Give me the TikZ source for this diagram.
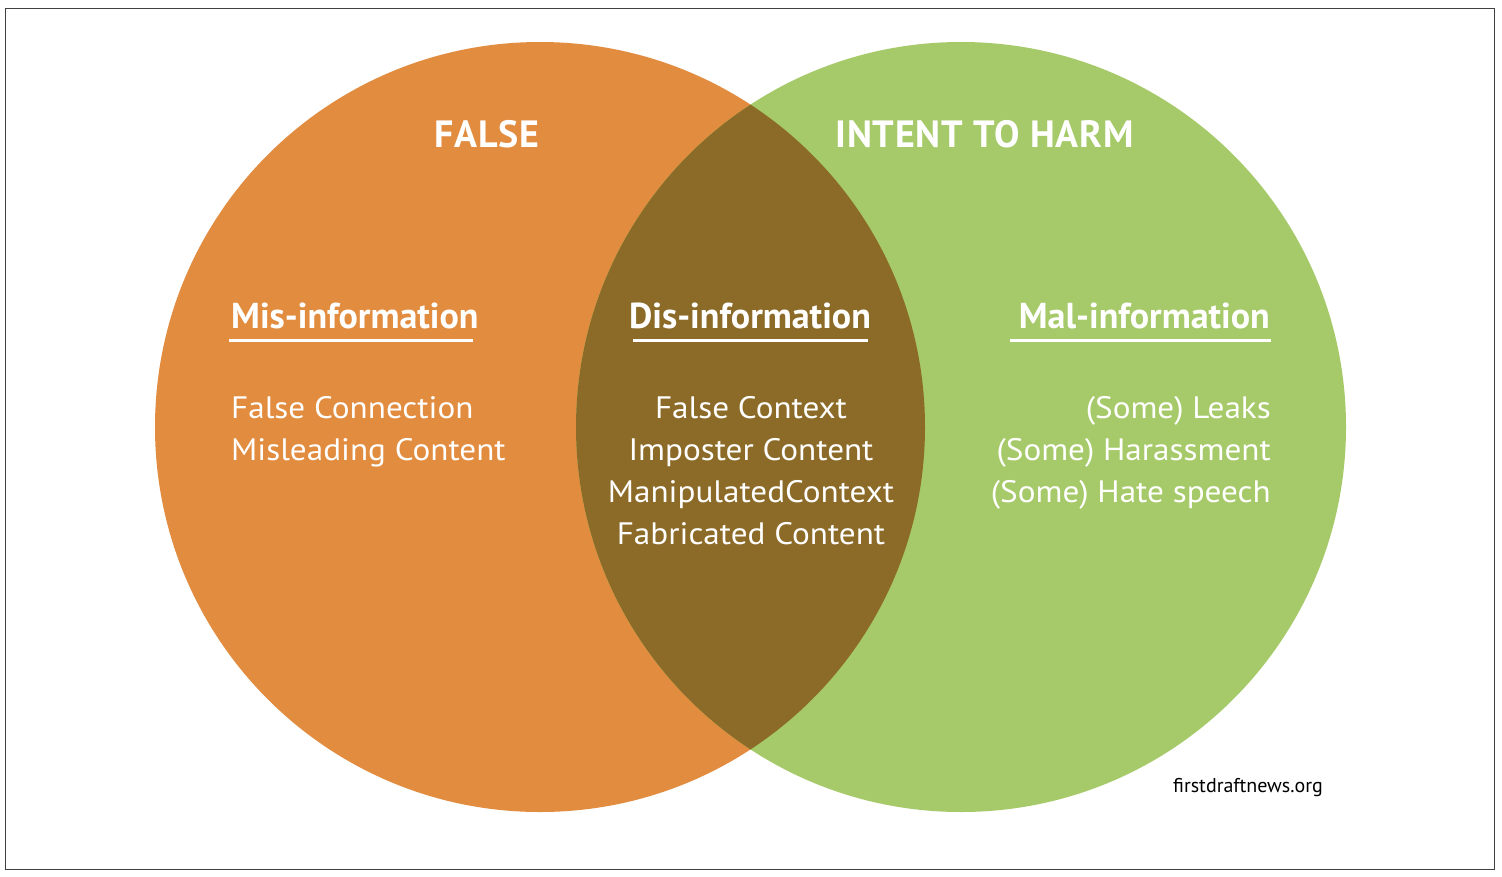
\documentclass[tikz,border=0pt]{standalone}
\usepackage{fontspec}
\setmainfont{PT Sans}
\newfontfamily\titlefont[LetterSpace=2]{PT Sans Bold}
\newfontfamily\headfont{PT Sans Bold}
\newfontfamily\listfont[FakeStretch=1.07]{PT Sans}
\definecolor{falsecol}{HTML}{E28C3F}
\definecolor{harmcol}{HTML}{A6CA69}
\definecolor{bothcol}{HTML}{8C6B28}
\begin{document}
\begin{tikzpicture}[x=1pt,y=-1pt,
  title/.style={text=white,font=\titlefont\fontsize{38}{38}\selectfont,inner sep=0pt},
  heading/.style={text=white,font=\headfont\fontsize{36}{36}\selectfont,inner sep=0pt},
  item/.style={text=white,font=\listfont\fontsize{31}{42}\selectfont,inner sep=0pt},
  rule/.style={white,line width=3pt}]
  \useasboundingbox (0,0) rectangle (1502,876);
  \fill[white] (0,0) rectangle (1502,876);
  \draw[black!75,line width=1.2pt] (5.5,8.5) rectangle (1494.5,869.5);

  % the two sets
  \coordinate (cf) at (540,427);
  \coordinate (ch) at (961,427);
  \fill[falsecol] (cf) circle[radius=385];
  \fill[harmcol] (ch) circle[radius=385];
  \begin{scope}
    \clip (cf) circle[radius=385];
    \fill[bothcol] (ch) circle[radius=385];
  \end{scope}

  % set titles
  \node[title,anchor=base] (tfalse) at (487,147) {FALSE};
  \node[title,anchor=base] (tharm) at (984.5,147) {INTENT TO HARM};

  % region headings
  \node[heading,anchor=base west] (hmis) at (231,328) {Mis-information};
  \draw[rule] (229,340) -- (473,340);
  \node[heading,anchor=base] (hdis) at (750,328) {Dis-information};
  \draw[rule] (633,340) -- (868,340);
  \node[heading,anchor=base east] (hmal) at (1270,328) {Mal-information};
  \draw[rule] (1010,340) -- (1271,340);

  % region contents
  \node[item,anchor=base west] (lmis1) at (231,418) {False Connection};
  \node[item,anchor=base west] (lmis2) at (231,460) {Misleading Content};

  \node[item,anchor=base] (ldis1) at (751,418) {False Context};
  \node[item,anchor=base] (ldis2) at (751,460) {Imposter Content};
  \node[item,anchor=base] (ldis3) at (751,502) {ManipulatedContext};
  \node[item,anchor=base] (ldis4) at (751,544) {Fabricated Content};

  \node[item,anchor=base east] (lmal1) at (1271,418) {(Some) Leaks};
  \node[item,anchor=base east] (lmal2) at (1271,460) {(Some) Harassment};
  \node[item,anchor=base east] (lmal3) at (1271,502) {(Some) Hate speech};

  % source
  \node[anchor=base west,inner sep=0pt,font=\fontsize{20}{20}\selectfont] (src) at (1173,792) {firstdraftnews.org};
\end{tikzpicture}
\end{document}
